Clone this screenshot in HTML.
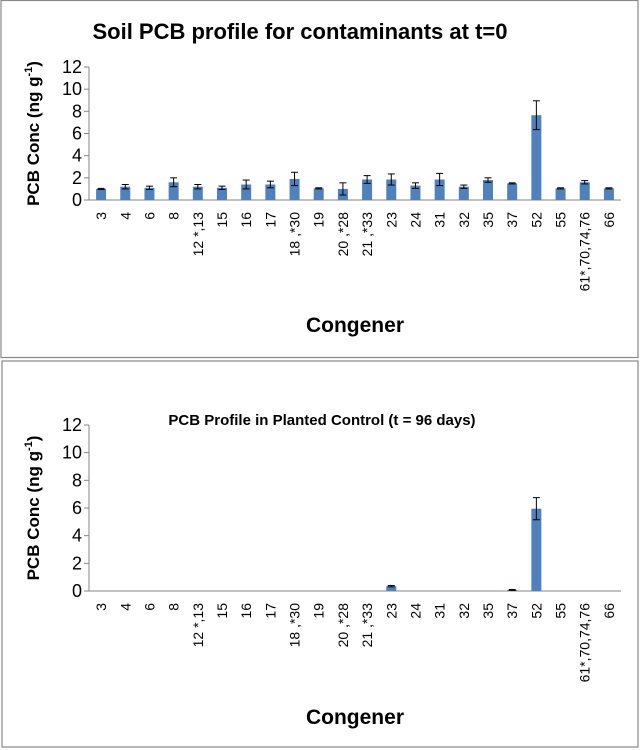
<!DOCTYPE html>
<html><head><meta charset="utf-8"><style>
body{margin:0;background:#fff;}
svg{display:block;font-family:"Liberation Sans",Calibri,sans-serif;}
</style></head><body>
<svg id="s" width="640" height="750"></svg>
<script>
const categories=["3","4","6","8","12 *,13","15","16","17","18 ,*30","19","20 ,*28","21 ,*33","23","24","31","32","35","37","52","55","61*,70,74,76","66"];
const values1=[1.0,1.2,1.1,1.6,1.2,1.1,1.4,1.4,1.9,1.05,1.0,1.85,1.85,1.3,1.85,1.2,1.8,1.5,7.65,1.05,1.6,1.05];
const errors1=[0.05,0.2,0.15,0.4,0.2,0.15,0.4,0.3,0.6,0.05,0.55,0.35,0.5,0.25,0.55,0.15,0.2,0.05,1.3,0.05,0.15,0.05];
const values2=[0,0,0,0,0,0,0,0,0,0,0,0,0.35,0,0,0,0,0.08,5.95,0,0,0];
const errors2=[0,0,0,0,0,0,0,0,0,0,0,0,0.05,0,0,0,0,0.03,0.8,0,0,0];
const yTicks=[0,2,4,6,8,10,12];
const NS="http://www.w3.org/2000/svg";
const svg=document.getElementById('s');
function mk(tag,attrs,parent,text){const e=document.createElementNS(NS,tag);for(const k in attrs)e.setAttribute(k,attrs[k]);if(text!==undefined)e.textContent=text;(parent||svg).appendChild(e);return e;}
function chart(cfg){
  const g=mk('g',{});
  
  
  const fr=mk('rect',{x:cfg.fx,y:cfg.fy,width:cfg.fw,height:cfg.fh,fill:'#fff',stroke:'#888','stroke-width':1.2},g);
  
  const x0=89,x1=621,y0=cfg.y0,y12=cfg.y12;
  const bw=(x1-x0)/categories.length;
  const yS=v=>y0-(v/12)*(y0-y12);
  const xC=i=>x0+bw*(i+0.5);
  const t=mk('text',{x:cfg.tx,y:cfg.ty,'text-anchor':'middle','font-weight':'bold','font-size':cfg.ts,fill:'#000'},g,cfg.title);
  
  const ya=mk('line',{x1:x0,y1:y12,x2:x0,y2:y0,stroke:'#868686'},g);
  
  const xa=mk('line',{x1:x0,y1:y0,x2:x1,y2:y0,stroke:'#868686'},g);
  
  yTicks.forEach(v=>{
    const y=yS(v);
    mk('line',{x1:x0-5,y1:y,x2:x0,y2:y,stroke:'#868686'},g);
    const tl=mk('text',{x:x0-7,y:y+6,'text-anchor':'end','font-size':18,fill:'#000'},g,String(v));
    
  });
  categories.forEach((c,i)=>{
    const cx=xC(i);
    const tl=mk('text',{transform:`translate(${cx+5},${y0+12}) rotate(-90)`,'text-anchor':'end','font-size':14,fill:'#000'},g,c);
    
    const v=cfg.vals[i],e=cfg.errs[i];
    if(v>0){
      const b=mk('rect',{x:cx-5,y:yS(v),width:10,height:y0-yS(v),fill:'#4f81bd'},g);
      
      if(e>0){
        const eg=mk('g',{stroke:'#000','stroke-width':1},g);
        
        mk('line',{x1:cx,y1:yS(v+e),x2:cx,y2:yS(v-e)},eg);
        mk('line',{x1:cx-3.5,y1:yS(v+e),x2:cx+3.5,y2:yS(v+e)},eg);
        mk('line',{x1:cx-3.5,y1:yS(v-e),x2:cx+3.5,y2:yS(v-e)},eg);
      }
    }
  });
  const yt=mk('text',{transform:`translate(39,${(y0+y12)/2}) rotate(-90)`,'text-anchor':'middle','font-weight':'bold','font-size':17,fill:'#000'},g);
  
  mk('tspan',{},yt,'PCB Conc (ng g');
  mk('tspan',{'font-size':11,dy:-7},yt,'-1');
  mk('tspan',{dy:7},yt,')');
  const xt=mk('text',{x:355,y:cfg.xty,'text-anchor':'middle','font-weight':'bold','font-size':21,fill:'#000'},g,'Congener');
  
}
chart({name:'chart-t0',fx:1,fy:0.5,fw:637,fh:357,y0:200,y12:67,tx:300,ty:39,ts:22,title:'Soil PCB profile for contaminants  at t=0',vals:values1,errs:errors1,xty:332});
chart({name:'chart-planted-control',fx:2,fy:361,fw:636,fh:386,y0:591,y12:425,tx:322,ty:425,ts:15,title:'PCB Profile in Planted Control (t = 96 days)',vals:values2,errs:errors2,xty:724});
</script>
</body></html>
